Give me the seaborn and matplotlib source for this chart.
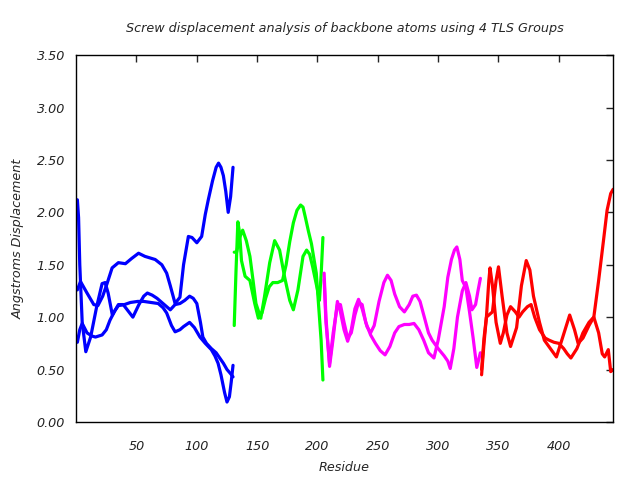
import matplotlib
matplotlib.use("Agg")
import matplotlib.pyplot as plt
import seaborn as sns
import pandas as pd

# ---- data ----
blue1_res = [1, 2, 3, 5, 8, 12, 17, 21.5, 24, 26.5, 30, 35, 39, 43, 47, 52, 56, 59, 63, 67, 72, 78, 82, 86, 90, 94, 97, 100, 103, 105, 108, 112, 116, 119, 122, 125, 128, 130]
blue1_val = [2.12, 1.95, 1.5, 0.95, 0.67, 0.81, 1.1, 1.32, 1.33, 1.23, 1.02, 1.12, 1.12, 1.06, 1.0, 1.12, 1.2, 1.23, 1.21, 1.18, 1.13, 1.07, 1.12, 1.13, 1.16, 1.2, 1.18, 1.13, 0.95, 0.81, 0.75, 0.7, 0.66, 0.61, 0.56, 0.5, 0.46, 0.43]

blue2_res = [1, 3, 5, 9, 13, 16, 21.5, 25, 28, 32, 35, 40, 45, 51, 56, 62, 68, 72, 75, 79, 82, 86, 89, 94, 98, 102.6, 107, 112, 115, 117.6, 120, 123, 125, 127, 128.5, 130]
blue2_val = [0.76, 0.88, 0.94, 0.85, 0.82, 0.81, 0.83, 0.88, 0.97, 1.06, 1.11, 1.12, 1.14, 1.15, 1.15, 1.14, 1.13, 1.09, 1.04, 0.92, 0.86, 0.88, 0.91, 0.95, 0.9, 0.81, 0.75, 0.69, 0.63, 0.56, 0.45, 0.28, 0.19, 0.24, 0.38, 0.54]

blue3_res = [1, 3.6, 9, 14.6, 18, 22, 25.6, 29.8, 35, 40.8, 46, 51.7, 57, 65.5, 71, 75, 78, 82, 86, 89, 93, 96, 100, 104, 107, 109.5, 113, 116, 118, 120, 122, 124, 126, 128, 130]
blue3_val = [1.26, 1.34, 1.23, 1.12, 1.11, 1.2, 1.32, 1.47, 1.52, 1.51, 1.56, 1.61, 1.58, 1.55, 1.5, 1.42, 1.3, 1.13, 1.19, 1.5, 1.77, 1.76, 1.71, 1.77, 1.98, 2.12, 2.3, 2.43, 2.47, 2.43, 2.35, 2.2, 2.0, 2.15, 2.43]

green1_res = [131, 132.5, 134, 135.5, 137, 140, 144, 148, 151, 154, 157, 160, 163, 167, 171, 174, 177, 180, 183, 186, 188, 190, 192.5, 195, 199, 201, 203, 204.5]
green1_val = [0.92, 1.45, 1.91, 1.8, 1.54, 1.39, 1.35, 1.13, 0.99, 1.04, 1.18, 1.29, 1.33, 1.33, 1.35, 1.5, 1.72, 1.9, 2.02, 2.07, 2.05, 1.95, 1.82, 1.7, 1.42, 1.1, 0.78, 0.4]

green2_res = [131, 133, 135.5, 138, 141, 144, 146.6, 149, 153, 156, 160.4, 164.5, 168.6, 172.8, 177, 180, 183.8, 188, 191, 193.5, 196, 200, 201.6, 203, 204.5]
green2_val = [1.62, 1.62, 1.76, 1.83, 1.73, 1.58, 1.35, 1.13, 0.99, 1.19, 1.52, 1.73, 1.64, 1.38, 1.16, 1.07, 1.26, 1.58, 1.64, 1.6, 1.48, 1.26, 1.16, 1.4, 1.76]

magenta1_res = [205.5, 207, 210, 213, 216.5, 219, 222, 225, 228, 231, 234, 237, 241, 244, 247, 251, 255, 258, 261, 264, 268, 272, 276, 279, 282, 285, 289, 292, 295, 300, 305, 308, 310, 313, 316, 320, 323, 326, 328, 331, 333, 335]
magenta1_val = [1.42, 1.0, 0.53, 0.8, 1.15, 1.05, 0.88, 0.77, 0.88, 1.08, 1.17, 1.08, 0.91, 0.85, 0.92, 1.15, 1.33, 1.4, 1.35, 1.22, 1.1, 1.05, 1.12, 1.2, 1.21, 1.15, 0.98, 0.85, 0.78, 0.7, 0.63, 0.58, 0.51, 0.7, 1.0, 1.25, 1.33, 1.2, 1.07, 1.12, 1.25, 1.37]

magenta2_res = [205.5, 207, 210, 213, 216.5, 219, 222, 225, 228, 231, 234, 237, 240, 244, 248, 252, 256, 260, 264, 267.5, 272, 276, 280, 284, 288, 292, 296.5, 300, 305, 308, 311, 313.5, 315.5, 318, 320, 323, 326, 329, 332, 335]
magenta2_val = [1.36, 0.95, 0.56, 0.85, 1.12, 1.12, 0.95, 0.8, 0.85, 1.02, 1.14, 1.12, 0.95, 0.83, 0.75, 0.68, 0.64, 0.72, 0.85, 0.91, 0.93, 0.93, 0.94, 0.88, 0.78, 0.66, 0.61, 0.78, 1.1, 1.38, 1.55, 1.64, 1.67, 1.55, 1.35, 1.28, 1.05, 0.8, 0.52, 0.66]

red1_res = [336, 338, 340, 342, 343, 345, 348, 351.5, 354, 357, 360, 364, 367, 370, 374, 377, 380, 384, 388.7, 392, 396, 400, 404, 407, 410, 415, 420, 425, 429, 433, 436, 438, 441, 443, 445]
red1_val = [0.45, 0.75, 1.0, 1.35, 1.47, 1.3, 0.95, 0.75, 0.85, 1.02, 1.1, 1.05, 1.0, 1.05, 1.1, 1.12, 1.0, 0.88, 0.8, 0.78, 0.76, 0.75, 0.7, 0.65, 0.61, 0.7, 0.85, 0.95, 1.0, 0.85, 0.65, 0.62, 0.69, 0.48, 0.5]

red2_res = [336, 338, 340, 345, 348, 350, 353, 357, 360, 365, 369, 373, 376, 379, 384, 388, 393, 398, 403, 409, 413, 416, 420, 425, 429, 433, 437, 440, 443, 445]
red2_val = [0.5, 0.8, 1.0, 1.05, 1.35, 1.48, 1.2, 0.85, 0.72, 0.9, 1.3, 1.54, 1.45, 1.2, 0.95, 0.78, 0.7, 0.62, 0.8, 1.02, 0.88, 0.75, 0.8, 0.92, 1.0, 1.35, 1.73, 2.02, 2.18, 2.22]

y_ticks = [0.0, 0.5, 1.0, 1.5, 2.0, 2.5, 3.0, 3.5]
x_ticks = [50, 100, 150, 200, 250, 300, 350, 400]

series = [
    ("TLS1", "a", blue1_res, blue1_val),
    ("TLS1", "b", blue2_res, blue2_val),
    ("TLS1", "c", blue3_res, blue3_val),
    ("TLS2", "a", green1_res, green1_val),
    ("TLS2", "b", green2_res, green2_val),
    ("TLS3", "a", magenta1_res, magenta1_val),
    ("TLS3", "b", magenta2_res, magenta2_val),
    ("TLS4", "a", red1_res, red1_val),
    ("TLS4", "b", red2_res, red2_val),
]
rows = []
for g, s, xs, ys in series:
    for i, (x, y) in enumerate(zip(xs, ys)):
        rows.append({"group": g, "series": g + s, "order": i, "Residue": x, "disp": y})
df = pd.DataFrame(rows)

palette = {"TLS1": "#0000ff", "TLS2": "#00ff00", "TLS3": "#ff00ff", "TLS4": "#ff0000"}

sns.set_style("white")
plt.rcParams["font.family"] = ["DejaVu Sans"]

fig = plt.figure(figsize=(6.4, 4.8), dpi=100)
ax = fig.add_axes([0.119, 0.121, 0.839, 0.764])

for sname, sub in df.groupby("series", sort=False):
    sns.lineplot(data=sub, x="Residue", y="disp", color=palette[sub["group"].iloc[0]],
                 sort=False, estimator=None, lw=2.3, ax=ax, legend=False)

fs = 9.2
ax.set_xlim(0, 445)
ax.set_ylim(0, 3.5)
ax.set_xticks(x_ticks)
ax.set_yticks(y_ticks)
ax.set_yticklabels([f"{v:.2f}" for v in y_ticks], fontstyle="italic", fontsize=fs)
ax.set_xticklabels([str(v) for v in x_ticks], fontstyle="italic", fontsize=fs)
ax.tick_params(direction="in", length=5, width=1, top=True, right=True,
               labelcolor="#222222")
ax.tick_params(axis="y", pad=8)
ax.tick_params(axis="x", pad=13)
for sp in ax.spines.values():
    sp.set_visible(True)
    sp.set_color("black")
    sp.set_linewidth(1)

ax.set_xlabel("Residue", fontstyle="italic", fontsize=fs, labelpad=6)
ax.set_ylabel("Angstroms Displacement", fontstyle="italic", fontsize=fs, labelpad=9)
ax.set_title("Screw displacement analysis of backbone atoms using 4 TLS Groups",
             fontstyle="italic", fontsize=fs, pad=17)

fig.savefig("out.png", dpi=100)
